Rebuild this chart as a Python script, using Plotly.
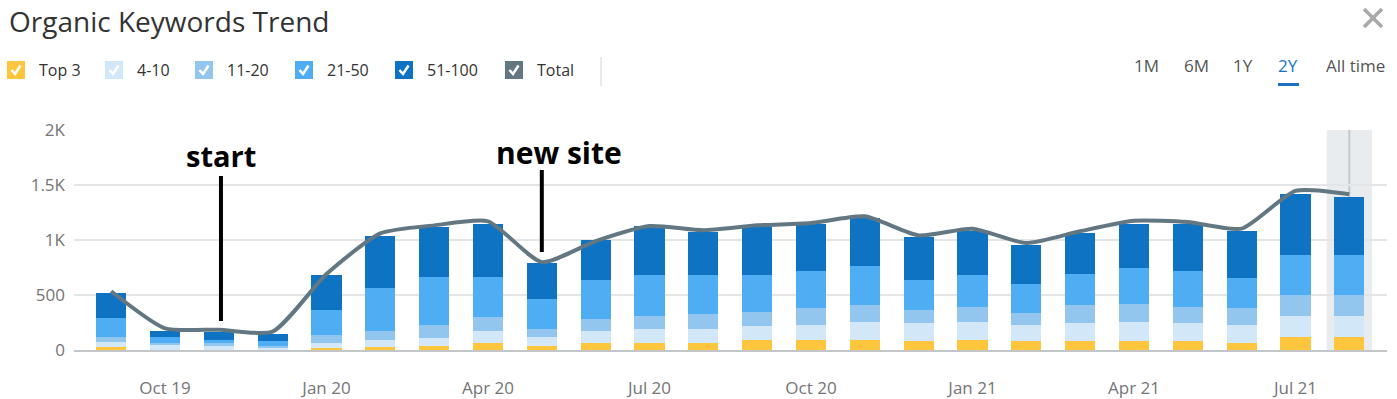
import plotly.graph_objects as go

# ---- data ----
months = ["Sep 19", "Oct 19", "Nov 19", "Dec 19", "Jan 20", "Feb 20", "Mar 20", "Apr 20",
          "May 20", "Jun 20", "Jul 20", "Aug 20", "Sep 20", "Oct 20", "Nov 20", "Dec 20",
          "Jan 21", "Feb 21", "Mar 21", "Apr 21", "May 21", "Jun 21", "Jul 21", "Aug 21"]
top3 = [30, 4, 3, 3, 15, 27, 39, 67, 39, 67, 67, 67, 94, 94, 94, 85, 94, 85, 85, 82, 82, 67, 121, 121]
pos_4_10 = [39, 44, 39, 24, 52, 61, 73, 109, 82, 109, 127, 127, 128, 137, 164, 164, 164, 146, 164, 176, 167, 164, 192, 192]
pos_11_20 = [46, 16, 18, 12, 72, 88, 119, 128, 70, 109, 119, 137, 121, 155, 155, 118, 137, 109, 164, 164, 146, 155, 191, 191]
pos_21_50 = [173, 51, 34, 46, 228, 386, 431, 358, 277, 347, 373, 355, 343, 328, 355, 265, 291, 264, 274, 319, 319, 273, 356, 356]
pos_51_100 = [232, 61, 66, 61, 319, 477, 459, 487, 322, 365, 441, 386, 432, 435, 435, 394, 395, 353, 380, 408, 428, 419, 562, 535]
total = [534, 197, 185, 167, 690, 1060, 1133, 1170, 799, 990, 1127, 1088, 1133, 1154, 1215, 1042,
         1103, 972, 1080, 1175, 1163, 1103, 1446, 1416]

tick_idx = [1, 4, 7, 10, 13, 16, 19, 22]
tick_text = [months[i] for i in tick_idx]
y_ticks = [0, 500, 1000, 1500, 2000]
y_tick_text = ["0", "500", "1K", "1.5K", "2K"]

series_names = ["Top 3", "4-10", "11-20", "21-50", "51-100"]
series_vals = [top3, pos_4_10, pos_11_20, pos_21_50, pos_51_100]
series_colors = ["#FFC63D", "#D2E8F8", "#92C6EF", "#4FAEF3", "#0F73C3"]
total_color = "#627781"

annot_labels = ["start", "new site"]
annot_idx = [2.04, 8]

# ---- layout constants ----
W, H = 1397, 399
L, R, T, B = 74, 10, 130, 49
PW, PH = W - L - R, H - T - B
FONT = "Open Sans"


def px(x):
    return (x - L) / PW


def py(y):
    return (H - B - y) / PH


x_idx = list(range(len(months)))

fig = go.Figure()
for name, vals, col in zip(series_names, series_vals, series_colors):
    fig.add_trace(go.Bar(x=x_idx, y=vals, name=name, marker=dict(color=col, line=dict(width=0)),
                         hovertext=months, showlegend=False))
fig.add_trace(go.Scatter(x=x_idx, y=total, name="Total", mode="lines",
                         line=dict(color=total_color, width=4, shape="spline", smoothing=0.6),
                         showlegend=False))

shapes = []
annotations = []

# hover band on last bar
last = len(months) - 1
shapes.append(dict(type="rect", xref="x", yref="paper", x0=last - 0.42, x1=last + 0.42, y0=0, y1=1,
                   fillcolor="#E9ECEE", line=dict(width=0), layer="below"))
shapes.append(dict(type="line", xref="x", yref="paper", x0=last, x1=last, y0=0, y1=1,
                   line=dict(color="#C4C8CA", width=2), layer="below"))

# annotation pointers
ptr = [(176, 321), (170, 252)]
text_y = [155, 152]
text_dx = [0, 17]
text_size = [29, 30]
for lab, xi, (ya, yb), ty, dx, ts in zip(annot_labels, annot_idx, ptr, text_y, text_dx, text_size):
    shapes.append(dict(type="line", xref="x", yref="paper", x0=xi, x1=xi, y0=py(ya), y1=py(yb),
                       line=dict(color="#000000", width=4)))
    annotations.append(dict(x=xi, xref="x", xshift=dx, y=py(ty), yref="paper", text="<b>%s</b>" % lab,
                            showarrow=False, font=dict(family=FONT, size=ts, color="#000000"),
                            xanchor="center", yanchor="middle"))

# title
annotations.append(dict(x=px(7), y=py(21), xref="paper", yref="paper", text="Organic Keywords Trend",
                        showarrow=False, xanchor="left", yanchor="middle",
                        font=dict(family=FONT, size=28, color="#333333")))
# close icon (two strokes)
for (xa, ya, xb, yb) in [(1364, 9, 1382, 27), (1364, 27, 1382, 9)]:
    shapes.append(dict(type="line", xref="paper", yref="paper", x0=px(xa), y0=py(ya), x1=px(xb), y1=py(yb),
                       line=dict(color="#A9A9A9", width=3.5)))

# custom legend with check boxes
leg_names = series_names + ["Total"]
leg_colors = series_colors + [total_color]
box_x = [7, 105, 195, 295, 395, 505]
txt_x = [37, 135, 225, 325, 425, 535]
for nm, col, bx, tx in zip(leg_names, leg_colors, box_x, txt_x):
    shapes.append(dict(type="rect", xref="paper", yref="paper", x0=px(bx), x1=px(bx + 18),
                       y0=py(79), y1=py(61), fillcolor=col, line=dict(width=0)))
    chk = "M %f,%f L %f,%f L %f,%f" % (px(bx + 4.5), py(70), px(bx + 8), py(74), px(bx + 13.5), py(65.5))
    shapes.append(dict(type="path", xref="paper", yref="paper", path=chk,
                       line=dict(color="#FFFFFF", width=2.5)))
    annotations.append(dict(x=px(tx), y=py(70), xref="paper", yref="paper", text=nm,
                            showarrow=False, xanchor="left", yanchor="middle",
                            font=dict(family=FONT, size=16, color="#333333")))
# separator
shapes.append(dict(type="line", xref="paper", yref="paper", x0=px(601), x1=px(601), y0=py(57), y1=py(86),
                   line=dict(color="#D6D6D6", width=1)))

# period buttons
periods = ["1M", "6M", "1Y", "2Y", "All time"]
per_x = [1146, 1196, 1243, 1288, 1355]
for p, xx in zip(periods, per_x):
    col = "#1A73C4" if p == "2Y" else "#555555"
    annotations.append(dict(x=px(xx), y=py(66), xref="paper", yref="paper", text=p,
                            showarrow=False, xanchor="center", yanchor="middle",
                            font=dict(family=FONT, size=17, color=col)))
shapes.append(dict(type="rect", xref="paper", yref="paper", x0=px(1278), x1=px(1299), y0=py(86), y1=py(83),
                   fillcolor="#1A73C4", line=dict(width=0)))

fig.update_layout(
    width=W, height=H,
    margin=dict(l=L, r=R, t=T, b=B, pad=0, autoexpand=False),
    barmode="stack", bargap=0.44,
    plot_bgcolor="#FFFFFF", paper_bgcolor="#FFFFFF",
    shapes=shapes, annotations=annotations,
    showlegend=False,
    xaxis=dict(range=[-0.69, 23.7], tickvals=tick_idx, ticktext=tick_text, showgrid=False,
               showline=True, linecolor="#C2C6C8", linewidth=2, zeroline=False,
               ticks="", ticklabelstandoff=22, automargin=False,
               tickfont=dict(family=FONT, size=17, color="#757575"), fixedrange=True),
    yaxis=dict(range=[0, 2000], tickvals=y_ticks, ticktext=y_tick_text, showgrid=True,
               gridcolor="#E3E5E6", gridwidth=1.5, zeroline=False, showline=False, ticks="",
               ticklabelstandoff=8, automargin=False,
               tickfont=dict(family=FONT, size=17, color="#757575"), fixedrange=True),
)

fig.write_html("out.html", config={"displayModeBar": False},
               post_script="document.body.style.margin='0px';document.body.style.overflow='hidden';")
